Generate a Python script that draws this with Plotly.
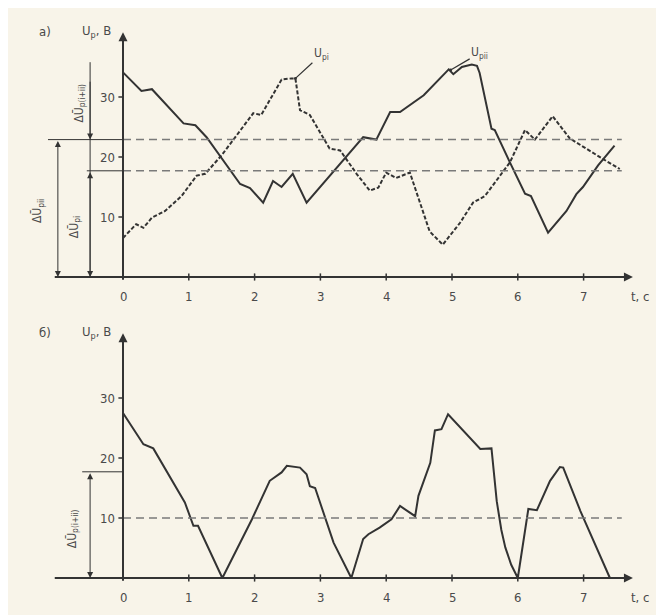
import plotly.graph_objects as go

# ---- data ----
t_pi = [0, 0.2, 0.31, 0.44, 0.64, 0.89, 1.12, 1.25, 1.5, 1.7, 1.98, 2.1, 2.41, 2.56, 2.62,
        2.69, 2.84, 3.14, 3.3, 3.55, 3.75, 3.88, 4.0, 4.15, 4.36, 4.66, 4.86, 5.12, 5.32,
        5.5, 5.88, 6.11, 6.26, 6.53, 6.79, 7.29, 7.55]
u_pi = [6.5, 8.8, 8.2, 9.9, 11.0, 13.5, 16.9, 17.2, 20.3, 23.3, 27.3, 27.0, 32.9, 33.1, 33.1,
        27.8, 27.0, 21.4, 21.1, 17.2, 14.4, 14.9, 17.4, 16.5, 17.4, 7.6, 5.4, 9.0, 12.4,
        13.5, 19.1, 24.5, 22.9, 26.8, 23.1, 19.7, 18.0]

t_pii = [0, 0.28, 0.44, 0.92, 1.1, 1.27, 1.78, 1.93, 2.13, 2.28, 2.41, 2.58, 2.79, 3.4, 3.65,
         3.85, 4.06, 4.21, 4.57, 4.95, 5.02, 5.15, 5.3, 5.38, 5.42, 5.6, 5.65, 5.88, 6.11,
         6.2, 6.46, 6.74, 6.89, 6.99, 7.22, 7.47]
u_pii = [34.1, 31.0, 31.3, 25.6, 25.3, 23.3, 15.5, 14.8, 12.4, 16.0, 15.0, 17.2, 12.4, 20.1, 23.3,
         22.9, 27.5, 27.5, 30.3, 34.6, 33.8, 35.0, 35.4, 35.2, 34.0, 24.7, 24.5, 19.1, 13.9,
         13.5, 7.4, 11.0, 13.8, 15.0, 18.6, 21.9]

t_diff = [0, 0.31, 0.46, 0.69, 0.94, 1.07, 1.14, 1.51, 1.96, 2.23, 2.41, 2.49, 2.69, 2.79, 2.84,
          2.92, 3.2, 3.47, 3.65, 3.73, 3.9, 4.08, 4.21, 4.44, 4.49, 4.67, 4.74, 4.84, 4.94,
          5.43, 5.6, 5.68, 5.75, 5.81, 5.9, 6.0, 6.16, 6.29, 6.49, 6.64, 6.69, 6.95, 7.4]
u_diff = [27.5, 22.3, 21.6, 17.3, 12.6, 8.7, 8.7, 0, 9.8, 16.2, 17.6, 18.7, 18.4, 17.3, 15.3,
          15.0, 5.9, 0, 6.5, 7.3, 8.4, 9.8, 12.0, 10.3, 13.7, 19.2, 24.6, 24.8, 27.3,
          21.5, 21.6, 12.8, 8.0, 5.1, 2.2, 0, 11.5, 11.3, 16.2, 18.5, 18.4, 11.2, 0]

mean_pii = 22.9
mean_pi = 17.7
mean_sum = 17.7
mean_diff = 10.0
top_delta = 35.8

x_ticks = [1, 2, 3, 4, 5, 6, 7]
x_tick_labels = ["0", "1", "2", "3", "4", "5", "6", "7"]
y_ticks = [10, 20, 30]
y_tick_labels = ["10", "20", "30"]

# ---- style ----
BG = "#f8f4e9"
INK = "#333333"
TXT = "#4a4a4a"
FONT = "DejaVu Sans Condensed, Liberation Sans Narrow, Arial Narrow, sans-serif"

fig = go.Figure()

fig.add_trace(go.Scatter(x=t_pii, y=u_pii, mode="lines", xaxis="x", yaxis="y",
                         line=dict(color=INK, width=2), showlegend=False, hoverinfo="skip"))
fig.add_trace(go.Scatter(x=t_pi, y=u_pi, mode="lines", xaxis="x", yaxis="y",
                         line=dict(color=INK, width=2, dash="4px,2px"), showlegend=False, hoverinfo="skip"))
fig.add_trace(go.Scatter(x=t_diff, y=u_diff, mode="lines", xaxis="x2", yaxis="y2",
                         line=dict(color=INK, width=2), showlegend=False, hoverinfo="skip"))

shapes = []
annotations = []


def hline(xr, yr, x0, x1, y, color=INK, width=1, dash="solid"):
    shapes.append(dict(type="line", xref=xr, yref=yr, x0=x0, x1=x1, y0=y, y1=y,
                       line=dict(color=color, width=width, dash=dash)))


def vline(xr, yr, x, y0, y1, color=INK, width=1):
    shapes.append(dict(type="line", xref=xr, yref=yr, x0=x, x1=x, y0=y0, y1=y1,
                       line=dict(color=color, width=width)))


def arrow(xr, yr, x, y, ax, ay, side="end", width=1, size=1.0, head=2):
    annotations.append(dict(xref=xr, yref=yr, axref=xr, ayref=yr, x=x, y=y, ax=ax, ay=ay,
                            text="", showarrow=True, arrowhead=head, startarrowhead=head,
                            arrowside=side, arrowsize=size, startarrowsize=size,
                            arrowwidth=width, arrowcolor=INK, standoff=0, startstandoff=0))


def text(xr, yr, x, y, s, size=12, xanchor="center", angle=0, color=TXT):
    annotations.append(dict(xref=xr, yref=yr, x=x, y=y, text=s, showarrow=False,
                            xanchor=xanchor, yanchor="middle", textangle=angle,
                            font=dict(family=FONT, size=size, color=color)))


for (xr, yr) in [("x", "y"), ("x2", "y2")]:
    # axes with arrows
    arrow(xr, yr, 7.75, 0, -1.06, 0, width=2, size=0.9)
    arrow(xr, yr, 0, 40.8, 0, -0.7, width=2, size=0.9)
    for xt in x_ticks:
        vline(xr, yr, xt, -0.6, 0.6, width=1.5)
    for yt in y_ticks:
        hline(xr, yr, -0.07, 0, yt, width=1.5)
    for i, lab in enumerate(x_tick_labels):
        text(xr, yr, i, -3.3, lab, size=13)
    for yt, lab in zip(y_ticks, y_tick_labels):
        text(xr, yr, -0.09, yt, lab, size=13, xanchor="right")
    text(xr, yr, 7.86, -3.3, "t, с", size=13)
    text(xr, yr, -0.41, 41.0, "U<sub>р</sub>, В", size=13)

text("x", "y", -1.19, 41.0, "а)", size=13)
text("x2", "y2", -1.19, 41.0, "б)", size=13)

# ---- top panel reference levels ----
hline("x", "y", -1.14, 0, mean_pii, width=1)
hline("x", "y", -0.55, 0, mean_pi, width=1)
hline("x", "y", 0, 7.58, mean_pii, color="#7a7a7a", width=1.5, dash="8px,5px")
hline("x", "y", 0, 7.58, mean_pi, color="#7a7a7a", width=1.5, dash="8px,5px")
# outer double arrow
arrow("x", "y", -0.99, 0, -0.99, mean_pii, side="end+start", size=1.2)
# inner arrows
vline("x", "y", -0.5, 0, top_delta)
arrow("x", "y", -0.5, mean_pii, -0.5, top_delta - 3, size=1.2)
arrow("x", "y", -0.5, 0, -0.5, mean_pi, side="end+start", size=1.2)

text("x", "y", -1.29, 11.0, "ΔŪ<sub>рii</sub>", size=12, angle=-90)
text("x", "y", -0.73, 8.3, "ΔŪ<sub>рi</sub>", size=12, angle=-90)
text("x", "y", -0.66, 29.0, "ΔŪ<sub>р(i+ii)</sub>", size=12, angle=-90)

# curve labels
annotations.append(dict(xref="x", yref="y", x=2.62, y=33.1, text="U<sub>рi</sub>", showarrow=True,
                        ax=26, ay=-24, arrowhead=6, arrowsize=0.6, arrowwidth=1.2, arrowcolor=INK,
                        standoff=0, font=dict(family=FONT, size=12, color=TXT)))
annotations.append(dict(xref="x", yref="y", x=4.98, y=34.5, text="U<sub>рii</sub>", showarrow=True,
                        ax=29, ay=-17, arrowhead=6, arrowsize=0.6, arrowwidth=1.2, arrowcolor=INK,
                        standoff=0, font=dict(family=FONT, size=12, color=TXT)))

# ---- bottom panel reference levels ----
hline("x2", "y2", -0.62, 0, mean_sum, width=1)
hline("x2", "y2", 0, 7.58, mean_diff, color="#7a7a7a", width=1.5, dash="8px,5px")
arrow("x2", "y2", -0.5, 0, -0.5, mean_sum, side="end+start", size=1.2)
text("x2", "y2", -0.76, 8.3, "ΔŪ<sub>р(i+ii)</sub>", size=12, angle=-90)

# page is offset by 8 px (body margin); figure px = reference px - 8
OFF = 8
xr_range = [(0 + OFF - 123) / 65.8, (664 + OFF - 123) / 65.8]
split = 300 - OFF  # figure px where panels meet
fig.update_layout(
    width=664, height=615,
    margin=dict(l=0, r=0, t=0, b=0),
    paper_bgcolor=BG, plot_bgcolor=BG,
    showlegend=False,
    xaxis=dict(domain=[0, 1], range=xr_range, visible=False, anchor="y"),
    yaxis=dict(domain=[1 - split / 615, 1], range=[(277 - 300) / 6, (277 - OFF) / 6],
               visible=False, anchor="x"),
    xaxis2=dict(domain=[0, 1], range=xr_range, visible=False, anchor="y2"),
    yaxis2=dict(domain=[0, 1 - split / 615], range=[(578 - 615 - OFF) / 6, (578 - 300) / 6],
                visible=False, anchor="x2"),
    shapes=shapes,
    annotations=annotations,
)

fig.write_html("out.html")
